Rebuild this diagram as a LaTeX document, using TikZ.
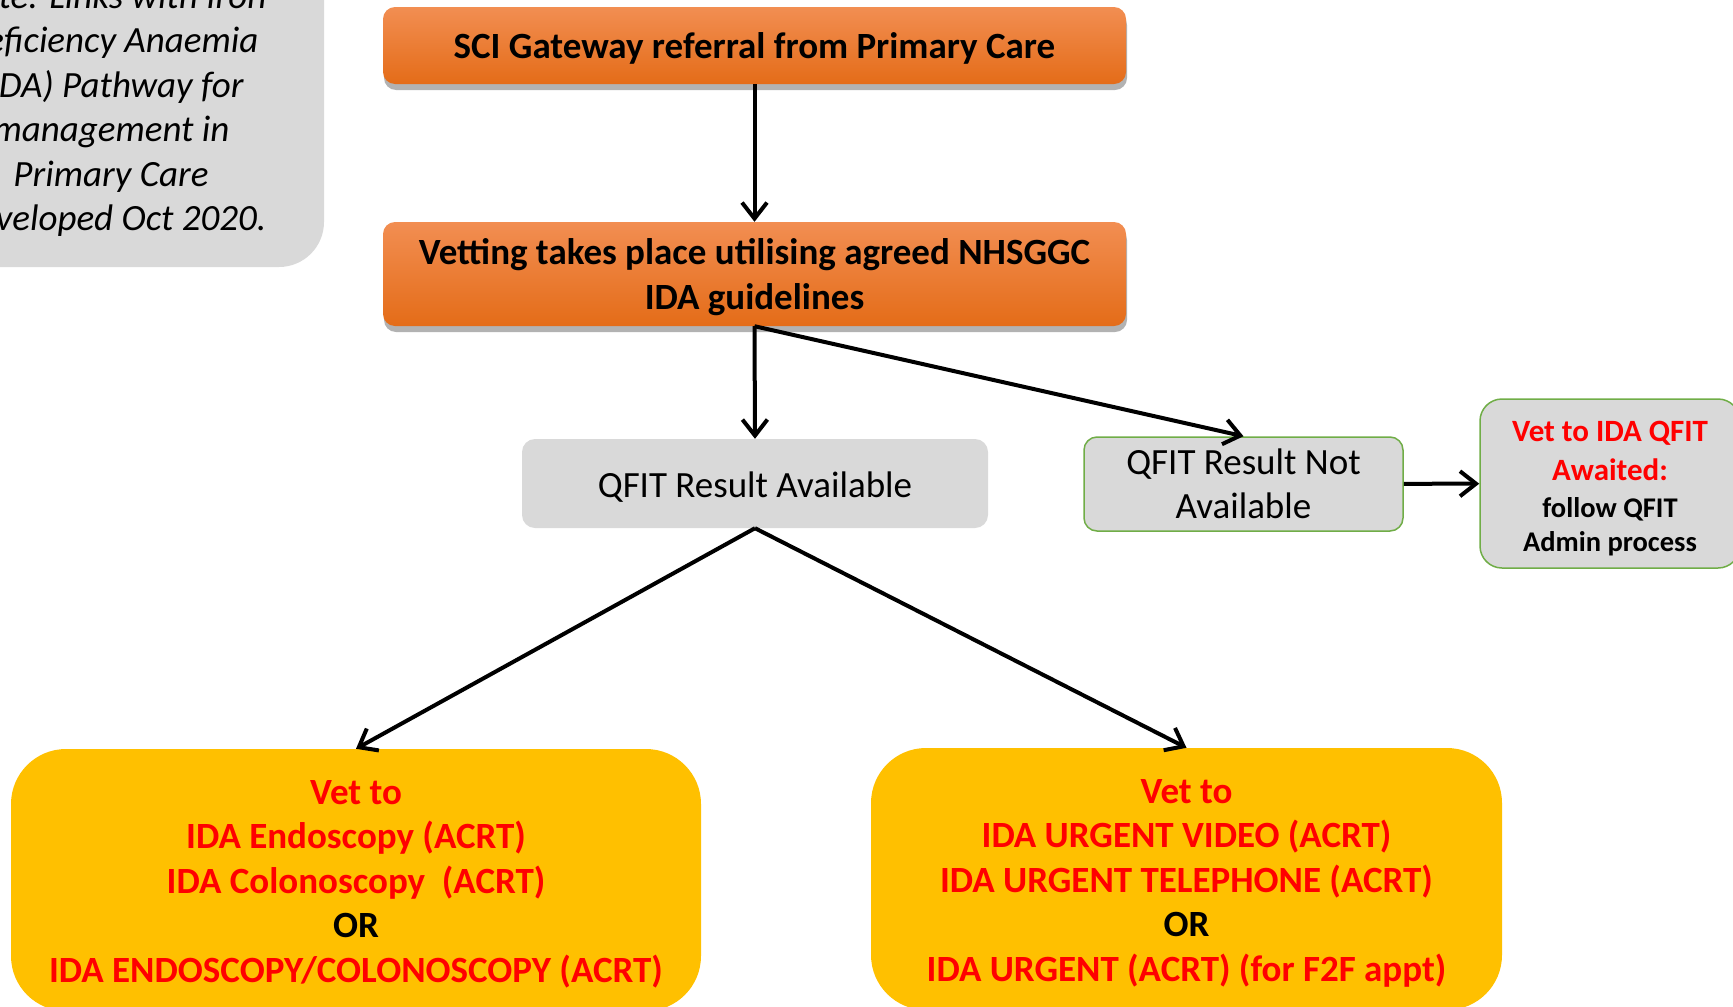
\documentclass[tikz,border=0pt]{standalone}
\usepackage{fontspec}
\setmainfont{Carlito}
\usepackage{xcolor}
\usetikzlibrary{arrows.meta,shadows}

\definecolor{vetorangetop}{RGB}{242,142,82}
\definecolor{vetorange}{RGB}{228,108,24}
\definecolor{boxgrey}{RGB}{217,217,217}
\definecolor{boxgreen}{RGB}{112,173,71}
\definecolor{boxyellow}{RGB}{255,192,0}
\definecolor{idared}{RGB}{255,0,0}

\newcommand{\bigtxt}{\fontsize{37}{44.5}\selectfont}
\newcommand{\smalltxt}{\fontsize{28.5}{34}\selectfont}
\newcommand{\txtdrop}[1][32.5pt]{\rule{0pt}{#1}}

\tikzset{
  orangebox/.style={rounded corners=12pt, top color=vetorangetop, bottom color=vetorange,
    drop shadow={shadow xshift=1pt, shadow yshift=-6pt, opacity=0.3, fill=black},
    minimum width=743pt, align=center, font=\bigtxt\bfseries},
  greybox/.style={rounded corners=13pt, fill=boxgrey, align=center, font=\bigtxt},
  notebox/.style={rounded corners=45pt, fill=boxgrey, align=center, font=\bigtxt\itshape,
    minimum width=426pt, minimum height=320pt},
  waitbox/.style={rounded corners=22pt, fill=boxgrey, draw=boxgreen, line width=1.5pt,
    align=center, font=\bfseries\fontsize{31}{39}\selectfont,
    minimum width=260pt, minimum height=169pt},
  yellowbox/.style={rounded corners=55pt, fill=boxyellow, text=idared, align=center,
    font=\bigtxt\bfseries, minimum height=262pt},
  arr/.style={->, line width=4pt}
}

\begin{document}
\begin{tikzpicture}[x=1pt, y=-1pt, >={Straight Barb[length=16pt,width=25pt]}]

  \useasboundingbox (0,0) rectangle (1733,1007);
  \clip (0,0) rectangle (1733,1007);

  \node[notebox] (note) at (111,107) {\txtdrop[30.5pt]Note: Links with Iron\\Deficiency Anaemia\\(IDA) Pathway for\\management in\\Primary Care\\Developed Oct 2020.};

  \node[orangebox, minimum height=77pt] (sci) at (754.5,45.5) {\txtdrop SCI Gateway referral from Primary Care};
  \node[orangebox, minimum height=104pt] (vet) at (754.5,274) {\txtdrop Vetting takes place utilising agreed NHSGGC\\IDA guidelines};

  \node[greybox, minimum width=466pt, minimum height=89pt] (avail) at (755,483.5) {\txtdrop QFIT Result Available};
  \node[greybox, draw=boxgreen, line width=1.5pt, minimum width=319pt, minimum height=94pt] (notavail) at (1243.5,484) {QFIT Result Not\\Available};
  \node[waitbox] (awaited) at (1610,483.5) {\txtdrop[30pt]\textcolor{idared}{Vet to IDA QFIT}\\\textcolor{idared}{Awaited:}\\[-2pt]\smalltxt follow QFIT\\[-5.5pt]\smalltxt Admin process};

  \node[yellowbox, minimum width=690pt] (endo) at (356,880) {\txtdrop[32.2pt]Vet to\\IDA Endoscopy (ACRT)\\IDA Colonoscopy~~(ACRT)\\\textcolor{black}{OR}\\IDA ENDOSCOPY/COLONOSCOPY (ACRT)};
  \node[yellowbox, minimum width=631pt] (urgent) at (1186.5,879) {\txtdrop[32.2pt]Vet to\\IDA URGENT VIDEO (ACRT)\\IDA URGENT TELEPHONE (ACRT)\\\textcolor{black}{OR}\\IDA URGENT (ACRT) (for F2F appt)};

  \draw[arr] (sci) -- (vet);
  \draw[arr] (vet.south) -- (avail.north);
  \draw[arr] (vet.south) -- (notavail.north);
  \draw[arr] (notavail) -- (awaited);
  \draw[arr] (avail.south) -- (endo.north);
  \draw[arr] (avail.south) -- (urgent.north);

\end{tikzpicture}
\end{document}
